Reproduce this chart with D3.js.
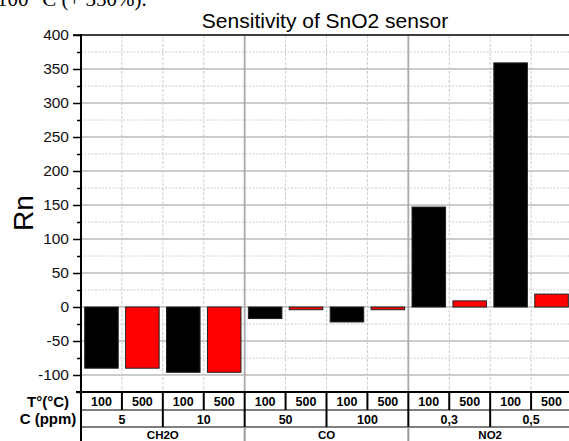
<!DOCTYPE html>
<html>
<head>
<meta charset="utf-8">
<script src="https://cdn.jsdelivr.net/npm/d3@7"></script>
<style>
  body { margin: 0; background: #fff; overflow: hidden; }
  svg { display: block; font-family: Arial, "Liberation Sans", sans-serif; }
</style>
</head>
<body>
<script>
// data
var gases = ["CH2O", "CO", "NO2"];
var concs = ["5", "10", "50", "100", "0,3", "0,5"];
var temps = ["100", "500"];
var rnAt100 = [-90, -96, -17, -22, 147, 359];
var rnAt500 = [-90, -96, -4, -4, 9, 19];
var yTicks = [-100, -50, 0, 50, 100, 150, 200, 250, 300, 350, 400];

var width = 569, height = 441;

var svg = d3.select("body").append("svg")
    .attr("width", width)
    .attr("height", height);

// one column per (concentration, temperature)
var cols = [];
concs.forEach(function(c, i){
  temps.forEach(function(t, j){
    cols.push({
      key: c + "|" + t,
      conc: c, temp: t,
      gas: gases[Math.floor(i / 2)],
      value: j == 0 ? rnAt100[i] : rnAt500[i],
      color: j == 0 ? "#000" : "#ff0000"
    });
  });
});

var x = d3.scaleBand()
    .domain(cols.map(function(d){ return d.key; }))
    .range([81, 572])
    .paddingInner(0.18)
    .paddingOuter(0.09);
var step = x.step();
var x0 = x.range()[0];

var y = d3.scaleLinear()
    .domain([-125, 400])
    .range([392, 35]);

// text cut off at the very top (it is cut in the source picture too)
svg.append("text")
    .attr("x", -3)
    .attr("y", 6)
    .attr("font-family", "'Liberation Serif', 'Times New Roman', serif")
    .attr("font-size", 21)
    .text("100 °C (+ 350%).");

svg.append("text")
    .attr("x", 325)
    .attr("y", 28)
    .attr("text-anchor", "middle")
    .attr("font-size", 21)
    .text("Sensitivity of SnO2 sensor");

// grid
var grid = svg.append("g");
d3.range(-100, 400, 25).forEach(function(v){
  var major = v % 50 == 0;
  grid.append("line")
      .attr("x1", x0).attr("x2", width)
      .attr("y1", y(v)).attr("y2", y(v))
      .attr("stroke", major ? "#999" : "#ccc")
      .attr("stroke-width", 1)
      .attr("stroke-dasharray", major ? null : "2,1.5");
});
d3.range(1, cols.length).forEach(function(i){
  var group = i % 4 == 0;
  grid.append("line")
      .attr("x1", x0 + i * step).attr("x2", x0 + i * step)
      .attr("y1", 35).attr("y2", 392)
      .attr("stroke", group ? "#aaa" : "#ccc")
      .attr("stroke-width", group ? 1.8 : 1)
      .attr("stroke-dasharray", group ? null : "3,1.5");
});

// bars
svg.selectAll("rect.bar")
  .data(cols).enter()
  .append("rect")
    .attr("class", "bar")
    .attr("x", function(d){ return x(d.key); })
    .attr("width", x.bandwidth())
    .attr("y", function(d){ return y(Math.max(0, d.value)); })
    .attr("height", function(d){ return Math.abs(y(d.value) - y(0)); })
    .attr("fill", function(d){ return d.color; })
    .attr("stroke", "#222")
    .attr("stroke-width", 1);

// y axis, major and minor ticks
var yAxis = svg.append("g")
    .attr("transform", "translate(" + x0 + ",0)")
    .call(d3.axisLeft(y).tickValues(yTicks).tickSize(8).tickPadding(4)
      .tickFormat(function(d){ return String(d); }));
yAxis.select(".domain").remove();
yAxis.selectAll(".tick line").attr("stroke", "#000").attr("stroke-width", 1.5);
yAxis.selectAll(".tick text")
    .attr("font-size", 15.5)
    .attr("font-family", "Arial, 'Liberation Sans', sans-serif")
    .attr("fill", "#111");

var minor = svg.append("g")
    .attr("transform", "translate(" + x0 + ",0)")
    .call(d3.axisLeft(y).tickValues(d3.range(-125, 400, 50)).tickSize(4).tickFormat(""));
minor.select(".domain").remove();
minor.selectAll(".tick line").attr("stroke", "#000").attr("stroke-width", 1.5);

// frame: top border and left axis line (runs down through the table)
svg.append("line")
    .attr("x1", 73).attr("x2", width)
    .attr("y1", 35).attr("y2", 35)
    .attr("stroke", "#000").attr("stroke-width", 1.5);
svg.append("line")
    .attr("x1", x0).attr("x2", x0)
    .attr("y1", 34).attr("y2", height)
    .attr("stroke", "#000").attr("stroke-width", 2);

svg.append("text")
    .attr("transform", "translate(33,213) rotate(-90)")
    .attr("text-anchor", "middle")
    .attr("font-size", 28)
    .text("Rn");

// table under the plot
var rowT = 392, rowC = 410, rowG = 427;
var table = svg.append("g");
table.append("line")
    .attr("x1", 76).attr("x2", width).attr("y1", rowT).attr("y2", rowT)
    .attr("stroke", "#000").attr("stroke-width", 2);
[rowC, rowG].forEach(function(r){
  table.append("line")
      .attr("x1", x0).attr("x2", width).attr("y1", r).attr("y2", r)
      .attr("stroke", "#000").attr("stroke-width", 1.2);
});

d3.range(1, cols.length + 1).forEach(function(i){
  var xx = x0 + i * step;
  table.append("line")
      .attr("x1", xx).attr("x2", xx).attr("y1", rowT).attr("y2", rowC)
      .attr("stroke", "#000").attr("stroke-width", 2);
  if(i % 2 == 0){
    table.append("line")
        .attr("x1", xx).attr("x2", xx).attr("y1", rowC).attr("y2", rowG)
        .attr("stroke", "#000").attr("stroke-width", 2);
  }
  if(i % 4 == 0){
    table.append("line")
        .attr("x1", xx).attr("x2", xx).attr("y1", rowG).attr("y2", height)
        .attr("stroke", "#999").attr("stroke-width", 2);
  }
});

table.selectAll("text.temp")
  .data(cols).enter()
  .append("text")
    .attr("class", "temp")
    .attr("x", function(d){ return x(d.key) + x.bandwidth() / 2; })
    .attr("y", rowT + 14)
    .attr("text-anchor", "middle")
    .attr("font-size", 12.5)
    .attr("font-weight", "bold")
    .text(function(d){ return d.temp; });

table.selectAll("text.conc")
  .data(concs).enter()
  .append("text")
    .attr("class", "conc")
    .attr("x", function(d, i){ return x0 + (i * 2 + 1) * step; })
    .attr("y", rowC + 13.5)
    .attr("text-anchor", "middle")
    .attr("font-size", 12.5)
    .attr("font-weight", "bold")
    .text(function(d){ return d; });

table.selectAll("text.gas")
  .data(gases).enter()
  .append("text")
    .attr("class", "gas")
    .attr("x", function(d, i){ return x0 + (i * 4 + 2) * step; })
    .attr("y", 439)
    .attr("text-anchor", "middle")
    .attr("font-size", 11.5)
    .attr("font-weight", "bold")
    .text(function(d){ return d; });

svg.append("text")
    .attr("x", 48).attr("y", rowT + 14.5)
    .attr("text-anchor", "middle")
    .attr("font-size", 15)
    .attr("font-weight", "bold")
    .text("T°(°C)");
svg.append("text")
    .attr("x", 48).attr("y", rowC + 14)
    .attr("text-anchor", "middle")
    .attr("font-size", 15)
    .attr("font-weight", "bold")
    .text("C (ppm)");
</script>
</body>
</html>
